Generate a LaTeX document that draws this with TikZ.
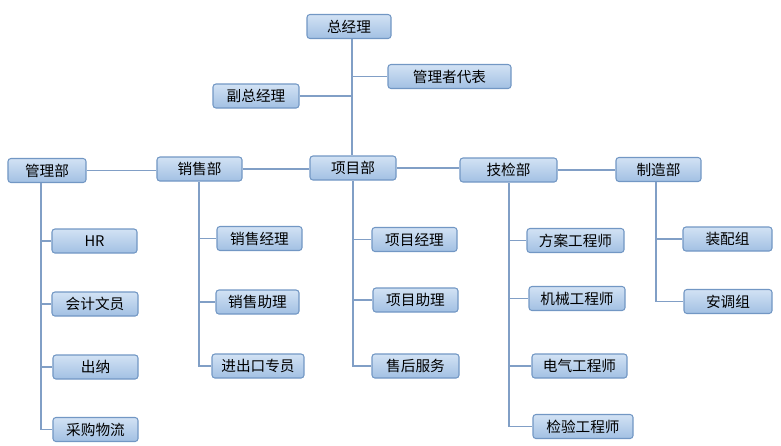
\documentclass[tikz,border=0pt]{standalone}
\usepackage{fontspec}
\setmainfont{Noto Sans CJK SC}
\definecolor{boxline}{HTML}{7297C4}
\definecolor{boxtop}{HTML}{D2E2F4}
\definecolor{boxbot}{HTML}{A2C0E3}
\definecolor{linkc}{HTML}{819FC6}

\begin{document}
\begin{tikzpicture}[x=0.03cm, y=-0.03cm,
    box/.style={rectangle, draw=boxline, line width=0.9pt, rounded corners=2.5pt,
      top color=boxtop, bottom color=boxbot, minimum height=0.72cm, inner sep=1pt,
      font=\fontsize{12.5}{14}\selectfont},
    link/.style={draw=linkc, line width=1.1pt}]
    \useasboundingbox (0,0) rectangle (781,445);

    % 上层
    \node[box, minimum width=2.52cm] (zjl) at (349, 26.5) {总经理};
    \node[box, minimum width=3.69cm] (glzdb) at (449.5, 76.5) {管理者代表};
    \node[box, minimum width=2.58cm] (fzjl) at (256, 96) {副总经理};

    % 各部门
    \node[box, minimum width=2.34cm] (glb) at (47, 170.5) {管理部};
    \node[box, minimum width=2.55cm] (xsb) at (199.5, 169) {销售部};
    \node[box, minimum width=2.58cm] (xmb) at (353, 168) {项目部};
    \node[box, minimum width=2.91cm] (jjb) at (508.5, 170) {技检部};
    \node[box, minimum width=2.55cm] (zzb) at (658.5, 169.5) {制造部};

    % 管理部の下
    \node[box, minimum width=2.55cm] (hr) at (94.5, 241) {HR};
    \node[box, minimum width=2.58cm] (kjwy) at (95, 304) {会计文员};
    \node[box, minimum width=2.55cm] (cn) at (95.5, 367) {出纳};
    \node[box, minimum width=2.55cm] (cgwl) at (95.5, 429.5) {采购物流};

    % 销售部の下
    \node[box, minimum width=2.55cm] (xsjl) at (259.5, 238.5) {销售经理};
    \node[box, minimum width=2.49cm] (xszl) at (257.5, 302) {销售助理};
    \node[box, minimum width=2.76cm] (jckzy) at (258, 366) {进出口专员};

    % 项目部の下
    \node[box, minimum width=2.55cm] (xmjl) at (414.5, 239.5) {项目经理};
    \node[box, minimum width=2.55cm] (xmzl) at (415.5, 300) {项目助理};
    \node[box, minimum width=2.61cm] (shfw) at (415.5, 366) {售后服务};

    % 技检部の下
    \node[box, minimum width=2.91cm] (fagcs) at (575.5, 240.5) {方案工程师};
    \node[box, minimum width=2.88cm] (jxgcs) at (577, 298.5) {机械工程师};
    \node[box, minimum width=2.85cm] (dqgcs) at (579.5, 366) {电气工程师};
    \node[box, minimum width=3.0cm] (jygcs) at (583, 426.5) {检验工程师};

    % 制造部の下
    \node[box, minimum width=2.67cm] (zpz) at (727.5, 239) {装配组};
    \node[box, minimum width=2.64cm] (atz) at (728, 301.5) {安调组};

    % 纵线的起点
    \coordinate (t1) at (41, 183);
    \coordinate (t2) at (199, 182);
    \coordinate (t3) at (353, 181);
    \coordinate (t4) at (509, 183);
    \coordinate (t5) at (656, 182);
    \coordinate (t0) at (352, 39);

    % 总经理から项目部へ
    \draw[link] (t0) -- (t0 |- xmb.north);
    \draw[link] (t0 |- glzdb.west) -- (glzdb.west);
    \draw[link] (t0 |- fzjl.east) -- (fzjl.east);

    % 部门之间
    \draw[link] (glb.east) -- (glb.east -| xsb.west);
    \draw[link] (xsb.east) -- (xsb.east -| xmb.west);
    \draw[link] (xmb.east) -- (xmb.east -| jjb.west);
    \draw[link] (jjb.east) -- (jjb.east -| zzb.west);

    % 管理部
    \draw[link] (t1) |- (cgwl.west);
    \draw[link] (t1 |- hr.west) -- (hr.west);
    \draw[link] (t1 |- kjwy.west) -- (kjwy.west);
    \draw[link] (t1 |- cn.west) -- (cn.west);

    % 销售部
    \draw[link] (t2) |- (jckzy.west);
    \draw[link] (t2 |- xsjl.west) -- (xsjl.west);
    \draw[link] (t2 |- xszl.west) -- (xszl.west);

    % 项目部
    \draw[link] (t3) |- (shfw.west);
    \draw[link] (t3 |- xmjl.west) -- (xmjl.west);
    \draw[link] (t3 |- xmzl.west) -- (xmzl.west);

    % 技检部
    \draw[link] (t4) |- (jygcs.west);
    \draw[link] (t4 |- fagcs.west) -- (fagcs.west);
    \draw[link] (t4 |- jxgcs.west) -- (jxgcs.west);
    \draw[link] (t4 |- dqgcs.west) -- (dqgcs.west);

    % 制造部
    \draw[link] (t5) |- (atz.west);
    \draw[link] (t5 |- zpz.west) -- (zpz.west);
\end{tikzpicture}
\end{document}
